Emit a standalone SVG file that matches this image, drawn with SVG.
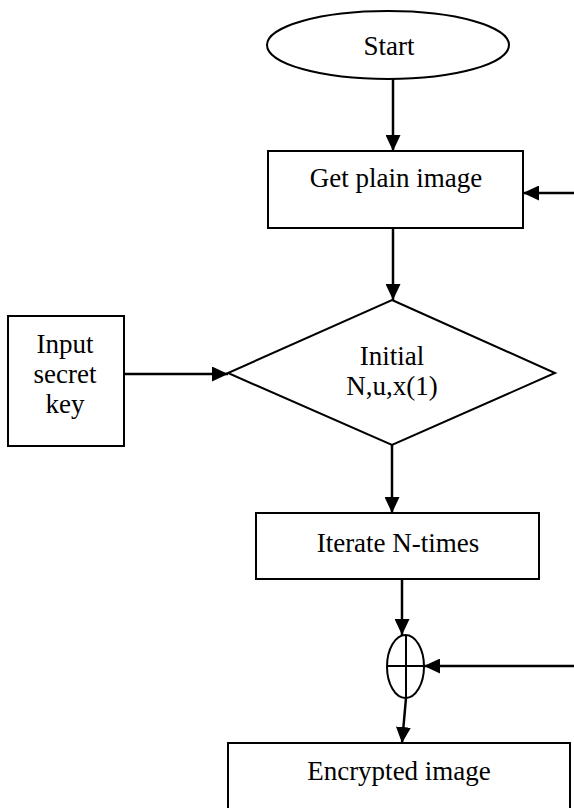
<svg xmlns="http://www.w3.org/2000/svg" width="574" height="808" viewBox="0 0 574 808">
<style>
.n{fill:#fff;stroke:#000;stroke-width:2}
.t{font-family:"Liberation Serif","Times New Roman",serif;font-size:27px;fill:#000;text-anchor:middle}
.c{fill:none;stroke:#000;stroke-width:2.5}
</style>
<defs>
<marker id="ah" markerUnits="userSpaceOnUse" markerWidth="16" markerHeight="15" refX="16" refY="7.5" orient="auto">
<path d="M0,0 L16,7.5 L0,15 z" fill="#000"/>
</marker>
</defs>
<rect width="574" height="808" fill="#fff"/>
<g id="connectors">
<path class="c" d="M393,79 L393,151" marker-end="url(#ah)"/>
<path class="c" d="M574,193 L523,193" marker-end="url(#ah)"/>
<path class="c" d="M393,228 L393,300" marker-end="url(#ah)"/>
<path class="c" d="M124,374 L228,374" marker-end="url(#ah)"/>
<path class="c" d="M392,445 L392,513" marker-end="url(#ah)"/>
<path class="c" d="M402,579 L402,635" marker-end="url(#ah)"/>
<path class="c" d="M574,666 L424,666" marker-end="url(#ah)"/>
<path class="c" d="M406,698 L402,743" marker-end="url(#ah)"/>
</g>
<g id="start">
<ellipse class="n" cx="388" cy="45" rx="121" ry="34"/>
<text class="t" x="389" y="55">Start</text>
</g>
<g id="get-plain-image">
<rect class="n" x="268" y="151" width="255" height="77"/>
<text class="t" x="396" y="187">Get plain image</text>
</g>
<g id="input-secret-key">
<rect class="n" x="8" y="316" width="116" height="130"/>
<text class="t" x="65" y="353">Input</text>
<text class="t" x="65" y="383">secret</text>
<text class="t" x="65" y="413">key</text>
</g>
<g id="initial">
<polygon class="n" points="392,300 555,373 392,445 228,373"/>
<text class="t" x="392" y="365">Initial</text>
<text class="t" x="392" y="395">N,u,x(1)</text>
</g>
<g id="iterate">
<rect class="n" x="256" y="513" width="283" height="66"/>
<text class="t" x="398" y="552">Iterate N-times</text>
</g>
<g id="xor">
<ellipse class="n" cx="405.5" cy="666.5" rx="18.5" ry="31.5"/>
<path d="M387,666 L424,666 M406,635 L406,698" stroke="#000" stroke-width="2"/>
</g>
<g id="encrypted-image">
<rect class="n" x="228" y="743" width="342" height="75"/>
<text class="t" x="399" y="780">Encrypted image</text>
</g>
</svg>
